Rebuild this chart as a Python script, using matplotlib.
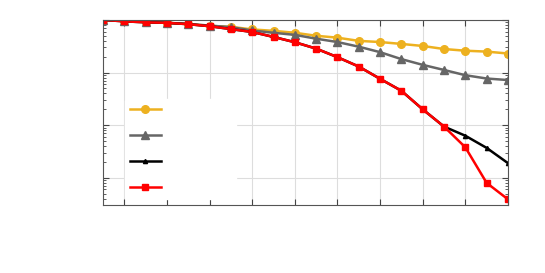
import numpy as np
import matplotlib
matplotlib.use("Agg")
import matplotlib.pyplot as plt

# iteration index and the four series (log-scale values)
x = np.arange(1, 21)
yellow = [1.0, 0.96, 0.92, 0.88, 0.84, 0.77, 0.74, 0.66, 0.62, 0.57,
          0.50, 0.46, 0.40, 0.38, 0.35, 0.32, 0.28, 0.26, 0.25, 0.23]
gray = [1.0, 0.96, 0.92, 0.88, 0.84, 0.78, 0.73, 0.63, 0.57, 0.52,
        0.44, 0.38, 0.31, 0.244, 0.18, 0.14, 0.112, 0.089, 0.077, 0.072]
red = [1.0, 0.94, 0.90, 0.88, 0.83, 0.76, 0.67, 0.59, 0.475, 0.377,
       0.285, 0.196, 0.13, 0.076, 0.045, 0.020, 0.0094, 0.0038, 0.0008, 0.00039]
black = red[:17] + [0.0063, 0.0037, 0.0019]
labels = [" " * 15] * 4
xticks = np.arange(2, 21, 2)

fig = plt.figure(figsize=(5.45, 2.73), dpi=100)
ax = fig.add_axes([0.189, 0.248, 0.743, 0.679])

ax.plot(x, yellow, color='#EDB120', lw=1.8, marker='o', ms=5.5, label=labels[0])
ax.plot(x, gray, color='#666666', lw=1.8, marker='^', ms=5.5, label=labels[1])
ax.plot(x, black, color='black', lw=1.8, marker='^', ms=3, label=labels[2])
ax.plot(x, red, color='#FF0000', lw=1.8, marker='s', ms=5, label=labels[3])

ax.set_yscale('log')
ax.set_xlim(1, 20)
ax.set_ylim(3e-4, 1)
ax.set_xticks(xticks)
ax.set_xticklabels([])
ax.set_yticks([1e-3, 1e-2, 1e-1, 1])
ax.yaxis.set_minor_formatter(matplotlib.ticker.NullFormatter())
ax.set_yticklabels([])
ax.tick_params(which='both', direction='in', top=True, right=True, colors='#444444')
ax.tick_params(which='major', length=4)
ax.tick_params(which='minor', length=2)
ax.grid(True, which='major', color='#dddddd', lw=0.8)
for s in ax.spines.values():
    s.set_color('#555555')

leg = ax.legend(loc='lower left', bbox_to_anchor=(0.038, 0.0), frameon=True,
                framealpha=1, edgecolor='white', fontsize=9,
                handlelength=2.5, labelspacing=1.02, borderpad=0.4)

plt.savefig('out.png', dpi=100)
